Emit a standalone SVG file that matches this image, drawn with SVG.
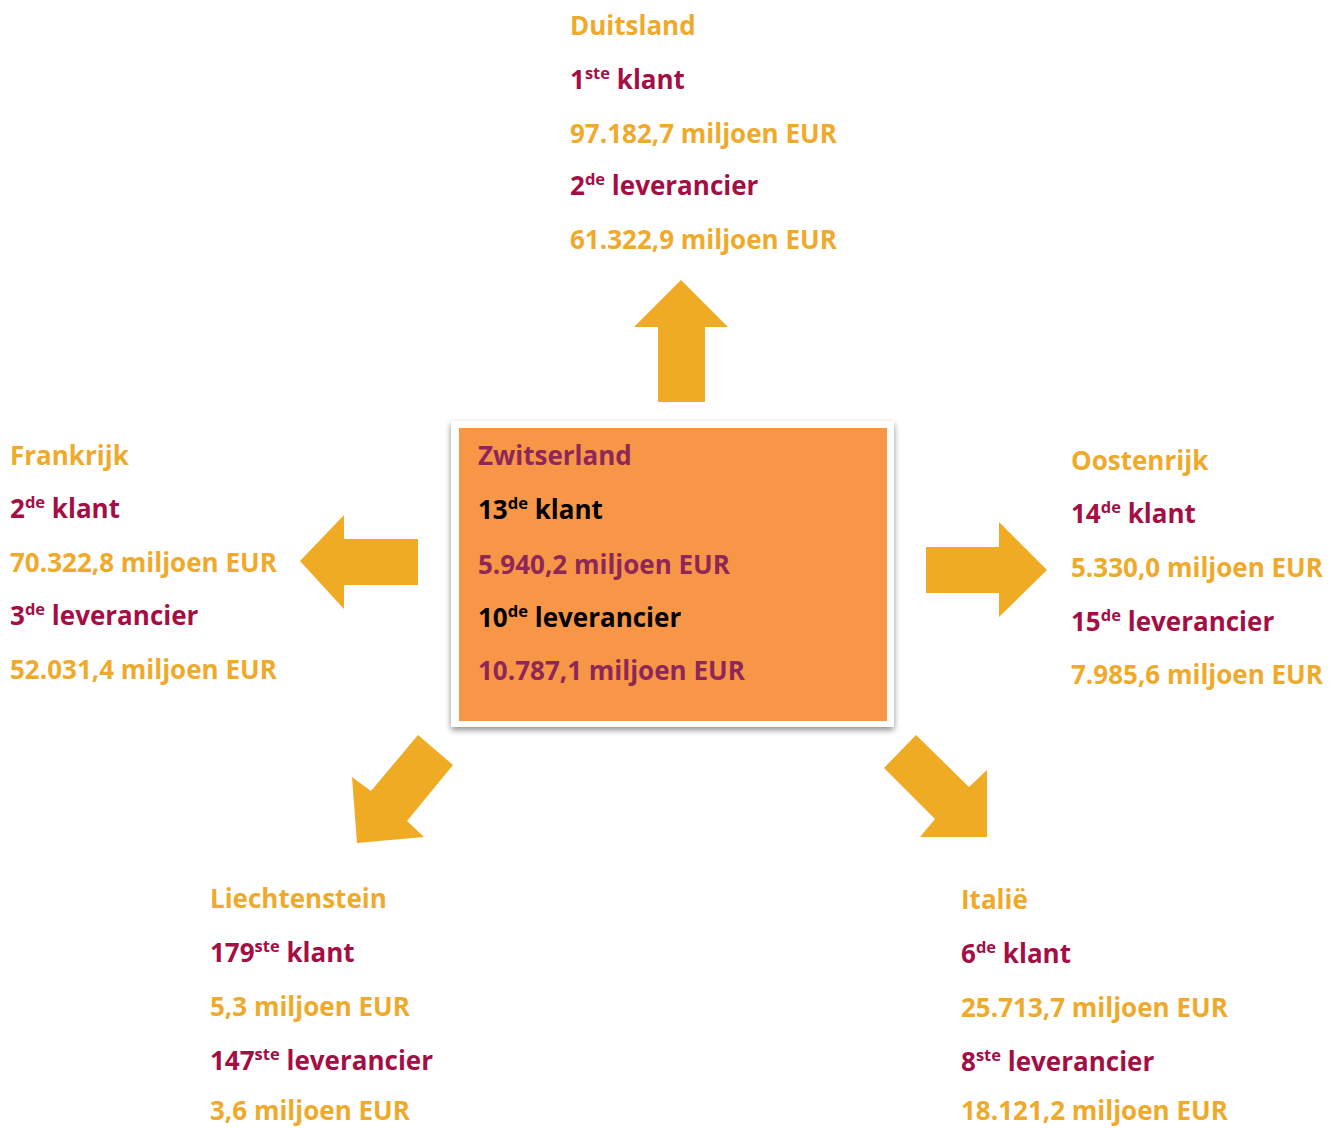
<svg xmlns="http://www.w3.org/2000/svg" width="1341" height="1128" viewBox="0 0 1341 1128">
<defs>
<style>
text{font-family:"Open Sans",Lato,"Liberation Sans",sans-serif;font-weight:700;font-size:26px}
.o{fill:#EFAA2B}
.m{fill:#A50E45}
.p{fill:#8E2757}
.k{fill:#000}
.s{font-size:16.5px}
.arrow{fill:#EFAB23}
</style>
<filter id="sh" x="-10%" y="-10%" width="120%" height="125%">
<feGaussianBlur in="SourceAlpha" stdDeviation="3"/>
<feOffset dx="0" dy="3"/>
<feComponentTransfer><feFuncA type="linear" slope="0.45"/></feComponentTransfer>
<feMerge><feMergeNode/><feMergeNode in="SourceGraphic"/></feMerge>
</filter>
</defs>
<rect width="1341" height="1128" fill="#fff"/>
<g id="connectors">
<polygon class="arrow" points="681,280 728,327 705,327 705,402 658,402 658,327 634,327"/>
<polygon class="arrow" points="300,561 344,515 344,539 418,539 418,585 344,585 344,609"/>
<polygon class="arrow" points="926,547 999,547 999,522 1047,570 999,617 999,593 926,593"/>
<polygon class="arrow" points="418,735 453,765 407,821 424,837 357,843 352,777 371,791"/>
<polygon class="arrow" points="916,735 969,787 987,770 987,837 920,837 935,819 884,768"/>
</g>
<g id="zwitserland">
<rect x="451" y="421" width="443" height="306" fill="#fff" filter="url(#sh)"/>
<rect x="459" y="428" width="428" height="293" fill="#F79646"/>
<text x="478" y="465" class="p">Zwitserland</text>
<text x="478" y="519" class="k">13<tspan class="s" dy="-10">de</tspan><tspan dy="10"> klant</tspan></text>
<text x="478" y="574" class="p">5.940,2 miljoen EUR</text>
<text x="478" y="627" class="k">10<tspan class="s" dy="-10">de</tspan><tspan dy="10"> leverancier</tspan></text>
<text x="478" y="680" class="p">10.787,1 miljoen EUR</text>
</g>
<g id="duitsland">
<text x="570" y="35" class="o">Duitsland</text>
<text x="570" y="89" class="m">1<tspan class="s" dy="-10">ste</tspan><tspan dy="10"> klant</tspan></text>
<text x="570" y="143" class="o">97.182,7 miljoen EUR</text>
<text x="570" y="195" class="m">2<tspan class="s" dy="-10">de</tspan><tspan dy="10"> leverancier</tspan></text>
<text x="570" y="249" class="o">61.322,9 miljoen EUR</text>
</g>
<g id="frankrijk">
<text x="10" y="465" class="o">Frankrijk</text>
<text x="10" y="518" class="m">2<tspan class="s" dy="-10">de</tspan><tspan dy="10"> klant</tspan></text>
<text x="10" y="572" class="o">70.322,8 miljoen EUR</text>
<text x="10" y="625" class="m">3<tspan class="s" dy="-10">de</tspan><tspan dy="10"> leverancier</tspan></text>
<text x="10" y="679" class="o">52.031,4 miljoen EUR</text>
</g>
<g id="oostenrijk">
<text x="1071" y="470" class="o">Oostenrijk</text>
<text x="1071" y="523" class="m">14<tspan class="s" dy="-10">de</tspan><tspan dy="10"> klant</tspan></text>
<text x="1071" y="577" class="o">5.330,0 miljoen EUR</text>
<text x="1071" y="631" class="m">15<tspan class="s" dy="-10">de</tspan><tspan dy="10"> leverancier</tspan></text>
<text x="1071" y="684" class="o">7.985,6 miljoen EUR</text>
</g>
<g id="liechtenstein">
<text x="210" y="908" class="o">Liechtenstein</text>
<text x="210" y="962" class="m">179<tspan class="s" dy="-10">ste</tspan><tspan dy="10"> klant</tspan></text>
<text x="210" y="1016" class="o">5,3 miljoen EUR</text>
<text x="210" y="1070" class="m">147<tspan class="s" dy="-10">ste</tspan><tspan dy="10"> leverancier</tspan></text>
<text x="210" y="1120" class="o">3,6 miljoen EUR</text>
</g>
<g id="italie">
<text x="961" y="909" class="o">Italië</text>
<text x="961" y="963" class="m">6<tspan class="s" dy="-10">de</tspan><tspan dy="10"> klant</tspan></text>
<text x="961" y="1017" class="o">25.713,7 miljoen EUR</text>
<text x="961" y="1071" class="m">8<tspan class="s" dy="-10">ste</tspan><tspan dy="10"> leverancier</tspan></text>
<text x="961" y="1120" class="o">18.121,2 miljoen EUR</text>
</g>
</svg>
